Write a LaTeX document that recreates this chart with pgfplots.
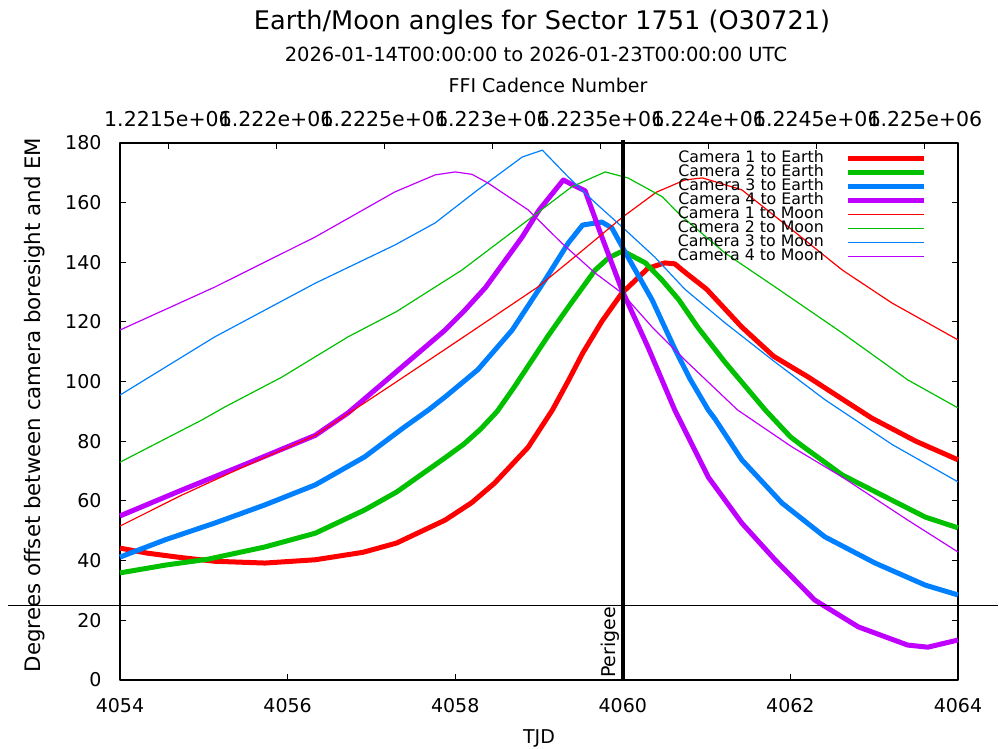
\documentclass[border=0pt]{standalone}
\usepackage{fontspec}
\setmainfont{DejaVu Sans}
\usepackage{pgfplots}
\pgfplotsset{compat=1.18}
\definecolor{gred}{HTML}{FF0000}
\definecolor{ggreen}{HTML}{00C000}
\definecolor{gblue}{HTML}{0080FF}
\definecolor{gpurple}{HTML}{C000FF}
\newcommand{\fs}[1]{\fontsize{#1}{#1}\selectfont}
\begin{document}
\begin{tikzpicture}[x=1pt,y=1pt]
\useasboundingbox (0,0) rectangle (999,749);
\node[font=\fs{25.6}] at (542,727) {Earth/Moon angles for Sector 1751 (O30721)};
\node[font=\fs{19.5}] at (536,695) {2026-01-14T00:00:00 to 2026-01-23T00:00:00 UTC};
\node[font=\fs{19}] at (548,664) {FFI Cadence Number};
\node[font=\fs{19}] at (539,11) {TJD};
\node[font=\fs{21.3},rotate=90] at (35,344) {Degrees offset between camera boresight and EM};

% top (cadence) axis
\begin{axis}[at={(120pt,69pt)}, anchor=south west, width=838pt, height=537pt,
  scale only axis, xmin=1278, xmax=5153, ymin=0, ymax=1,
  axis x line*=top, axis y line=none, scaled x ticks=false,
  xtick={1500,2000,2500,3000,3500,4000,4500,5000},
  xticklabels={1.2215e+06,1.222e+06,1.2225e+06,1.223e+06,1.2235e+06,1.224e+06,1.2245e+06,1.225e+06},
  tick align=inside, major tick length=6pt,
  every tick/.style={black,line width=1pt},
  axis line style={line width=1.2pt},
  xticklabel style={font=\fs{20.5}, yshift=13pt},
]
\addplot[draw=none] coordinates {(1500,0.5)};
\end{axis}

\begin{axis}[at={(120pt,69pt)}, anchor=south west, width=838pt, height=537pt,
  scale only axis, xmin=4054, xmax=4064, ymin=0, ymax=180,
  xtick={4054,4056,4058,4060,4062,4064},
  xticklabels={4054,4056,4058,4060,4062,4064},
  ytick={0,20,40,60,80,100,120,140,160,180},
  yticklabels={0,20,40,60,80,100,120,140,160,180},
  xtick pos=left, ytick pos=both,
  tick align=inside, major tick length=6pt,
  every tick/.style={black,line width=1pt},
  axis line style={line width=1.2pt},
  xticklabel style={font=\fs{19}, yshift=-15pt},
  yticklabel style={font=\fs{19}, xshift=-15pt},
  clip=false,
  legend cell align=right, legend plot pos=right,
  legend image code/.code={\draw[#1] (0pt,0pt) -- (76pt,0pt);},
  legend style={draw=none, fill=none, at={(0.963,0.985)}, anchor=north east,
    inner sep=0pt, row sep=0pt, column sep=22pt, font=\fs{15.8},
    nodes={inner sep=0pt, text height=11pt, text depth=3pt}},
  line join=round,
]
\addlegendimage{draw=gred, line width=5pt}
\addlegendentry{Camera 1 to Earth}
\addlegendimage{draw=ggreen, line width=5pt}
\addlegendentry{Camera 2 to Earth}
\addlegendimage{draw=gblue, line width=5pt}
\addlegendentry{Camera 3 to Earth}
\addlegendimage{draw=gpurple, line width=5pt}
\addlegendentry{Camera 4 to Earth}
\addlegendimage{draw=gred, line width=1.2pt}
\addlegendentry{Camera 1 to Moon}
\addlegendimage{draw=ggreen, line width=1.2pt}
\addlegendentry{Camera 2 to Moon}
\addlegendimage{draw=gblue, line width=1.2pt}
\addlegendentry{Camera 3 to Moon}
\addlegendimage{draw=gpurple, line width=1.2pt}
\addlegendentry{Camera 4 to Moon}
\addplot[forget plot, gred, line width=5pt] coordinates {(4054.0,44.2)(4054.33,42.5)(4054.74,41.0)(4055.13,39.8)(4055.73,39.2)(4056.33,40.3)(4056.9,42.8)(4057.3,45.9)(4057.88,53.6)(4058.2,59.5)(4058.47,66)(4058.87,78)(4059.16,90.5)(4059.35,100.3)(4059.52,109.5)(4059.75,120.2)(4059.99,129.7)(4060.3,138)(4060.5,139.8)(4060.62,139.5)(4060.75,136.5)(4061.0,131)(4061.42,118.3)(4061.8,108.5)(4062.21,101.6)(4062.6,94.5)(4062.97,87.8)(4063.5,80)(4064,73.8)};
\addplot[forget plot, ggreen, line width=5pt] coordinates {(4054,35.9)(4054.54,38.5)(4055.05,40.5)(4055.73,44.6)(4056.33,49.2)(4056.92,57)(4057.3,63)(4057.88,74.5)(4058.1,79)(4058.3,84)(4058.5,90)(4058.7,98)(4058.9,106.5)(4059.1,115)(4059.35,125)(4059.67,137.4)(4059.83,141.5)(4060.0,143.8)(4060.27,139.8)(4060.47,134)(4060.67,127.4)(4060.89,118.4)(4061.22,106.5)(4061.46,98.5)(4061.7,90.5)(4062.0,81.5)(4062.14,78.5)(4062.62,68.7)(4063.21,60.3)(4063.61,54.6)(4064,51)};
\addplot[forget plot, gblue, line width=5pt] coordinates {(4054,41.2)(4054.54,47)(4055.13,52.6)(4055.73,58.7)(4056.33,65.4)(4056.92,74.8)(4057.38,84.5)(4057.68,90.5)(4057.88,94.9)(4058.27,104)(4058.68,117.3)(4059.07,134)(4059.35,146.5)(4059.52,152.5)(4059.75,153.5)(4059.87,151.5)(4060.06,141.8)(4060.35,127.4)(4060.62,111)(4060.8,101)(4061.02,90.5)(4061.1,87.5)(4061.42,73.8)(4061.9,59.3)(4062.41,48)(4063.01,39.2)(4063.61,31.8)(4064,28.5)};
\addplot[forget plot, gpurple, line width=5pt] coordinates {(4054,55)(4054.74,63.7)(4055.53,72.7)(4056.33,82)(4056.72,89.5)(4057.28,102.9)(4057.88,117.3)(4058.1,123.5)(4058.36,131.5)(4058.8,148.5)(4059.0,157.5)(4059.29,167.6)(4059.4,166)(4059.55,164)(4059.75,148.5)(4059.99,130.7)(4060.3,111.6)(4060.62,90.5)(4061.02,68)(4061.42,52.6)(4061.82,40.2)(4062.29,26.8)(4062.81,17.8)(4063.4,11.7)(4063.64,11)(4064,13.4)};
\addplot[forget plot, gred, line width=1.2pt] coordinates {(4054,51.6)(4054.74,62)(4055.5,71.8)(4056.33,82)(4057.28,99.6)(4058.08,114.6)(4058.99,131.8)(4059.52,144)(4059.99,155)(4060.4,163.5)(4060.74,167.6)(4060.95,168.3)(4061.42,164.3)(4062.02,150.9)(4062.62,137.4)(4063.21,126.4)(4064,114)};
\addplot[forget plot, ggreen, line width=1.2pt] coordinates {(4054,73)(4054.98,87.2)(4055.25,91.5)(4055.93,101.5)(4056.72,115)(4057.3,123.5)(4058.08,137.4)(4058.87,154.2)(4059.39,165.3)(4059.79,170.3)(4060.06,168.3)(4060.47,162)(4060.68,156)(4061.22,143.1)(4061.82,131.7)(4062.62,116.3)(4063.4,100.6)(4064,91.2)};
\addplot[forget plot, gblue, line width=1.2pt] coordinates {(4054,95.5)(4055.13,115)(4056.33,133)(4057.28,145.8)(4057.76,153.2)(4058.27,164.3)(4058.8,175.3)(4059.04,177.6)(4059.35,168.6)(4059.67,160)(4059.99,151.9)(4060.38,141.8)(4060.74,131)(4061.22,119.7)(4061.82,106.5)(4062.41,94)(4062.73,88)(4063.21,79)(4064,66.4)};
\addplot[forget plot, gpurple, line width=1.2pt] coordinates {(4054,117.3)(4055.13,131.7)(4056.33,148.5)(4057.28,163.6)(4057.76,169.3)(4058.0,170.3)(4058.2,169.5)(4058.39,166.6)(4058.87,157.6)(4059.27,146.5)(4059.67,136.4)(4059.99,129.7)(4060.35,118.3)(4060.74,107.3)(4061.37,90.5)(4062.02,78.1)(4062.62,68)(4063.4,53.6)(4064,42.9)};
\draw[black, line width=1.5pt] (axis cs:4052.66,25) -- (axis cs:4064.48,25);
\draw[black, line width=4pt] (axis cs:4060,0) -- (axis cs:4060,181);
\node[rotate=90, anchor=south west, inner sep=0pt, font=\fs{19}] at ([xshift=-3pt,yshift=2pt]axis cs:4060,0) {Perigee};
\end{axis}
\end{tikzpicture}
\end{document}
